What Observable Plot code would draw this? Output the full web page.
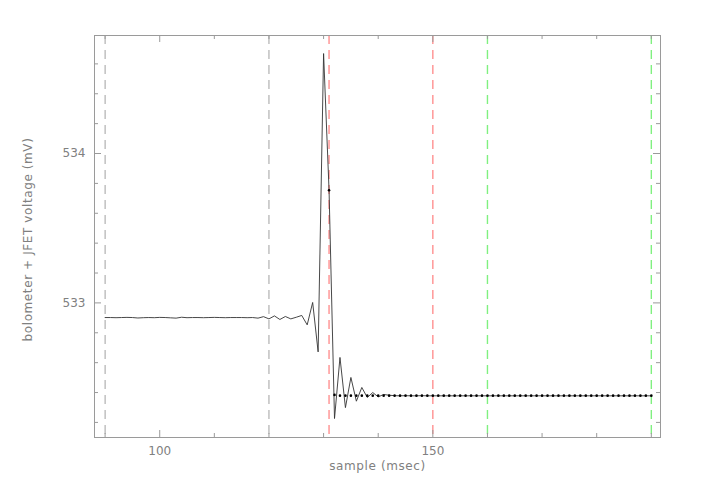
<!DOCTYPE html>
<html>
<head>
<meta charset="utf-8">
<script src="https://cdn.jsdelivr.net/npm/d3@7"></script>
<script src="https://cdn.jsdelivr.net/npm/@observablehq/plot@0.6"></script>
<style>
  html, body { margin: 0; padding: 0; background: #fff; }
  #chart { width: 710px; height: 497px; }
  #chart svg g[aria-label="text"] text { letter-spacing: 0.6px; }
</style>
</head>
<body>
<div id="chart"></div>
<script>
// ---- data ----
const startSample = 90; // first sample (msec)
const voltage = [
  532.902, 532.902, 532.901, 532.902, 532.903, 532.902, 532.899, 532.901, 532.902, 532.901,
  532.903, 532.902, 532.900, 532.898, 532.904, 532.901, 532.902, 532.902, 532.901, 532.902,
  532.903, 532.902, 532.901, 532.902, 532.902, 532.902, 532.901, 532.902, 532.898, 532.908,
  532.893, 532.913, 532.889, 532.909, 532.893, 532.904, 532.916, 532.853, 533.003, 532.672,
  534.669, 533.754, 532.226, 532.635, 532.299, 532.501, 532.342, 532.434, 532.367, 532.400,
  532.371, 532.387, 532.382, 532.379, 532.378, 532.379, 532.378, 532.378, 532.379, 532.378,
  532.378, 532.378, 532.378, 532.378, 532.378, 532.378, 532.378, 532.378, 532.378, 532.378,
  532.378, 532.378, 532.378, 532.378, 532.378, 532.378, 532.378, 532.378, 532.378, 532.378,
  532.378, 532.378, 532.378, 532.378, 532.378, 532.378, 532.378, 532.378, 532.378, 532.378,
  532.378, 532.378, 532.378, 532.378, 532.378, 532.378, 532.378, 532.378, 532.378, 532.378,
  532.378
];
const fitStart = 131;
const fitVoltage = [533.754, 532.384].concat(new Array(58).fill(532.379));

const grayMarkers = [90, 120];
const redMarkers = [131, 150];
const greenMarkers = [160, 190];

const xMajorTicks = [100, 150];
const xMinorTicks = [90, 110, 120, 130, 140, 160, 170, 180, 190];
const yMajorTicks = [533, 534];
const yMinorTicks = [532.2, 532.4, 532.6, 532.8, 533.2, 533.4, 533.6, 533.8, 534.2, 534.4, 534.6];

const xLabel = "sample (msec)";
const yLabel = "bolometer + JFET voltage (mV)";

// ---- build ----
const series = voltage.map((v, i) => ({sample: startSample + i, v}));
const fit = fitVoltage.map((v, i) => ({sample: fitStart + i, v}));

const W = 710, H = 497;
const mL = 94, mR = 50, mT = 35, mB = 60;
const plotW = W - mL - mR, plotH = H - mT - mB;
const axisColor = "#9a9a9a";
const textColor = "#808080";
const dash = "9,6";

const chart = Plot.plot({
  width: W,
  height: H,
  marginLeft: mL,
  marginRight: mR,
  marginTop: mT,
  marginBottom: mB,
  style: {fontFamily: "DejaVu Sans", fontSize: "12px", color: textColor, background: "#fff"},
  x: {domain: [88.06, 191.68], axis: null},
  y: {domain: [532.099, 534.79], axis: null},
  marks: [
    Plot.ruleX(grayMarkers, {stroke: "#a0a0a0", strokeDasharray: dash}),
    Plot.ruleX(redMarkers, {stroke: "#ff9090", strokeWidth: 1.4, strokeDasharray: dash}),
    Plot.ruleX(greenMarkers, {stroke: "#80f080", strokeWidth: 1.4, strokeDasharray: dash}),
    Plot.line(series, {x: "sample", y: "v", stroke: "#333", strokeWidth: 0.9}),
    Plot.dot(fit, {x: "sample", y: "v", r: 1.3, fill: "#000", stroke: null}),
    Plot.frame({stroke: axisColor}),
    // inward ticks, bottom and top
    Plot.tickX(xMajorTicks, {x: d => d, stroke: axisColor, insetTop: plotH - 7}),
    Plot.tickX(xMajorTicks, {x: d => d, stroke: axisColor, insetBottom: plotH - 7}),
    Plot.tickX(xMinorTicks, {x: d => d, stroke: axisColor, insetTop: plotH - 4}),
    Plot.tickX(xMinorTicks, {x: d => d, stroke: axisColor, insetBottom: plotH - 4}),
    // inward ticks, left and right
    Plot.tickY(yMajorTicks, {y: d => d, stroke: axisColor, insetRight: plotW - 7}),
    Plot.tickY(yMajorTicks, {y: d => d, stroke: axisColor, insetLeft: plotW - 7}),
    Plot.tickY(yMinorTicks, {y: d => d, stroke: axisColor, insetRight: plotW - 4}),
    Plot.tickY(yMinorTicks, {y: d => d, stroke: axisColor, insetLeft: plotW - 4}),
    // tick labels
    Plot.axisX({ticks: xMajorTicks, tickSize: 0, tickPadding: 9, tickFormat: d3.format("d"), label: null}),
    Plot.axisY({ticks: yMajorTicks, tickSize: 0, tickPadding: 9, tickFormat: d3.format("d"), label: null}),
    // axis titles
    Plot.text([xLabel], {text: d => d, frameAnchor: "bottom", dy: 32, textAnchor: "middle", fill: textColor, fontSize: 12}),
    Plot.text([yLabel], {text: d => d, frameAnchor: "left", rotate: -90, dx: -66, dy: 3, textAnchor: "middle", fill: textColor, fontSize: 12})
  ]
});
document.getElementById("chart").appendChild(chart);
</script>
</body>
</html>
